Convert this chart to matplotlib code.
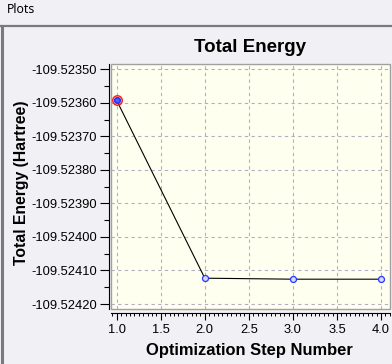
import matplotlib
matplotlib.use("Agg")
import matplotlib.pyplot as plt
from matplotlib.ticker import MultipleLocator, FormatStrFormatter
from matplotlib.lines import Line2D
from matplotlib.patches import Rectangle

steps = [1, 2, 3, 4]
energy = [-109.523593, -109.524123, -109.524126, -109.524126]
title = "Total Energy"
xlabel = "Optimization Step Number"
ylabel = "Total Energy (Hartree)"

W, H = 392, 364
fig = plt.figure(figsize=(W / 100, H / 100), dpi=100)
fig.patch.set_facecolor("#f1f0f4")

ax = fig.add_axes([111 / W, 1 - 309 / H, (390 - 111) / W, (309 - 64) / H])
ax.set_facecolor("#fffff0")

ax.plot(steps, energy, color="black", lw=0.8, zorder=3)
ax.plot(steps, energy, ls="none", marker="o", ms=4.3, mfc="#d8d8ff",
        mec="#2838ff", mew=0.9, zorder=4)
ax.plot(steps[0], energy[0], ls="none", marker="o", ms=6.8, mfc="none",
        mec="#ff2020", mew=1.1, zorder=5)
ax.plot(steps[0], energy[0], ls="none", marker="o", ms=3.6, mfc="#5060ff",
        mec="#2030ff", mew=0.8, zorder=6)

ax.set_xlim(0.9353, 4.102)
ax.set_ylim(-109.5242149, -109.5234842)

ax.xaxis.set_major_locator(MultipleLocator(0.5))
ax.xaxis.set_minor_locator(MultipleLocator(0.05))
ax.yaxis.set_major_locator(MultipleLocator(0.0001))
ax.yaxis.set_minor_locator(MultipleLocator(0.00005))
ax.xaxis.set_major_formatter(FormatStrFormatter("%.1f"))
ax.yaxis.set_major_formatter(FormatStrFormatter("%.5f"))

ax.grid(True, which="major", color="#b4aec4", ls=(0, (3, 3)), lw=0.8)
ax.set_axisbelow(True)

for s in ["top", "right"]:
    ax.spines[s].set_visible(False)
ax.spines["bottom"].set_position(("outward", 2.9))
ax.spines["left"].set_position(("outward", 1.2))
for s in ["bottom", "left"]:
    ax.spines[s].set_color("black")
    ax.spines[s].set_linewidth(0.8)

ax.add_patch(Rectangle((0, 0), 1, 1, transform=ax.transAxes, fill=False,
                       edgecolor="#a0a0a0", lw=1.0, clip_on=False, zorder=2))

ax.tick_params(axis="both", which="major", direction="out", color="black",
               width=0.8, labelcolor="black")
ax.tick_params(axis="y", which="major", length=6.5, pad=2.2)
ax.tick_params(axis="y", which="minor", length=3.3, width=0.8)
ax.tick_params(axis="x", which="major", length=5.0, pad=3.0)
ax.tick_params(axis="x", which="minor", length=2.5, width=0.7)
for lab in ax.get_xticklabels() + ax.get_yticklabels():
    lab.set_fontfamily("Liberation Sans")
    lab.set_fontsize(9.3)

ax.set_title(title, fontfamily="Liberation Sans", fontweight="bold",
             fontsize=13.5, pad=8.6)

fig.text(249 / W, 1 - 355 / H, xlabel, ha="center", va="baseline",
         fontfamily="Liberation Sans", fontweight="bold", fontsize=11.9)
fig.text(22 / W, 1 - 182.5 / H, ylabel, ha="center", va="center",
         rotation=90, fontfamily="Liberation Sans", fontweight="bold",
         fontsize=11.3)

fig.text(7 / W, 1 - 12.7 / H, "Plots", ha="left", va="baseline",
         fontfamily="Noto Sans", fontsize=8.8, color="black")

fig.add_artist(Line2D([0, 1], [1 - 26 / H, 1 - 26 / H], transform=fig.transFigure,
                      color="#7a7a7a", lw=1.6))
fig.add_artist(Line2D([1.5 / W, 1.5 / W], [0, 1 - 26 / H], transform=fig.transFigure,
                      color="#7a7a7a", lw=2.2))

fig.savefig("out.png", dpi=100, facecolor=fig.get_facecolor())
